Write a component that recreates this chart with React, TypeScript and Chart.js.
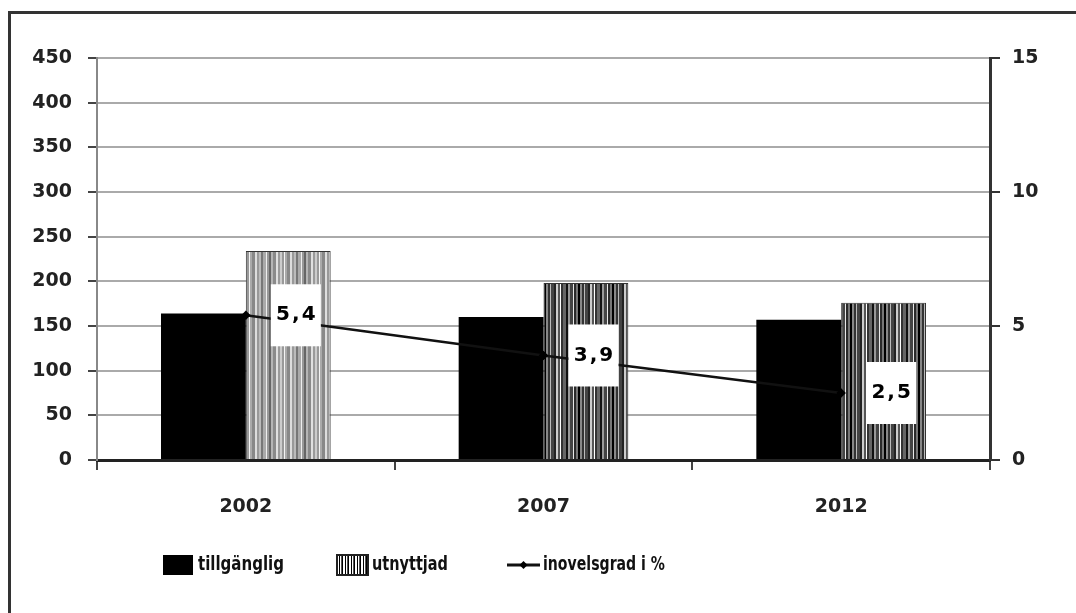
import React, { useEffect, useRef } from "react";
import { Chart, registerables } from "chart.js";

Chart.register(...registerables);

const categories = ["2002", "2007", "2012"];
const tillganglig = [164, 160, 157];
const utnyttjad = [234, 198, 176];
const inovelsgrad = [5.4, 3.9, 2.5];
const rateLabels = ["5,4", "3,9", "2,5"];
const seriesNames = ["tillgänglig", "utnyttjad", "inovelsgrad i %"];
const leftMax = 450;
const leftStep = 50;
const rightMax = 15;
const rightStep = 5;

type Stripe = [string, number];

function makePattern(stripes: Stripe[]): CanvasPattern | string {
  const total = stripes.reduce((s, [, w]) => s + w, 0);
  const c = document.createElement("canvas");
  c.width = total;
  c.height = 4;
  const g = c.getContext("2d");
  if (!g) return "#888";
  let x = 0;
  stripes.forEach(([col, w]) => {
    g.fillStyle = col;
    g.fillRect(x, 0, w, 4);
    x += w;
  });
  return g.createPattern(c, "repeat") || "#888";
}

const lightStripes: Stripe[] = [
  ["#ccc", 2], ["#999", 2], ["#f4f4f4", 1], ["#aaa", 2], ["#888", 3], ["#ddd", 2],
  ["#999", 2], ["#bbb", 2], ["#777", 2], ["#aaa", 3], ["#eee", 1], ["#999", 2],
  ["#666", 2], ["#b5b5b5", 2], ["#8a8a8a", 3], ["#e0e0e0", 2], ["#9a9a9a", 2],
];
const darkStripes: Stripe[] = [
  ["#000", 2], ["#888", 2], ["#333", 2], ["#bbb", 1], ["#444", 3], ["#222", 2],
  ["#ccc", 2], ["#555", 2], ["#fff", 1], ["#333", 2], ["#666", 3], ["#111", 2],
  ["#999", 2], ["#444", 3], ["#e8e8e8", 1], ["#2a2a2a", 2], ["#777", 2],
];
const legendStripes: Stripe[] = [["#000", 1], ["#fff", 2], ["#000", 1], ["#fff", 1], ["#555", 1]];

export default function App() {
  const ref = useRef<HTMLCanvasElement | null>(null);

  useEffect(() => {
    if (!ref.current) return;
    const light = makePattern(lightStripes);
    const dark = makePattern(darkStripes);
    const legendPattern = makePattern(legendStripes);
    const tickFont = { family: "DejaVu Sans", size: 19, weight: "bold" as const };

    const labelPlugin = {
      id: "rateLabels",
      afterDatasetsDraw(chart: any) {
        const ctx = chart.ctx;
        const meta = chart.getDatasetMeta(2);
        ctx.save();
        meta.data.forEach((pt: any, i: number) => {
          const cx = pt.x + 50;
          const cy = pt.y;
          ctx.fillStyle = "#fff";
          ctx.fillRect(cx - 25, cy - 31, 50, 62);
          ctx.fillStyle = "#000";
          ctx.font = "bold 20px 'DejaVu Sans'";
          (ctx as any).letterSpacing = "2px";
          ctx.textAlign = "center";
          ctx.textBaseline = "middle";
          ctx.fillText(rateLabels[i], cx + 1, cy);
        });
        ctx.restore();
      },
    };

    const legendPlugin = {
      id: "customLegend",
      afterDraw(chart: any) {
        const ctx = chart.ctx;
        const cy = 565;
        ctx.save();
        ctx.font = "bold 20px 'DejaVu Sans'";
        ctx.textBaseline = "middle";
        ctx.textAlign = "left";
        ctx.fillStyle = "#000";
        ctx.fillRect(163, cy - 10, 30, 20);
        ctx.fillStyle = "#111";
        ctx.fillText(chart.data.datasets[0].label, 198, cy, 86);
        ctx.fillStyle = legendPattern;
        ctx.fillRect(337, cy - 10, 31, 20);
        ctx.strokeStyle = "#222";
        ctx.lineWidth = 2;
        ctx.strokeRect(337, cy - 10, 31, 20);
        ctx.fillStyle = "#111";
        ctx.fillText(chart.data.datasets[1].label, 372, cy, 76);
        ctx.strokeStyle = "#111";
        ctx.lineWidth = 3;
        ctx.beginPath();
        ctx.moveTo(507, cy);
        ctx.lineTo(540, cy);
        ctx.stroke();
        ctx.fillStyle = "#000";
        ctx.beginPath();
        ctx.moveTo(523.5, cy - 4);
        ctx.lineTo(527.5, cy);
        ctx.lineTo(523.5, cy + 4);
        ctx.lineTo(519.5, cy);
        ctx.closePath();
        ctx.fill();
        ctx.fillStyle = "#111";
        ctx.fillText(chart.data.datasets[2].label, 543, cy, 122);
        ctx.restore();
      },
    };

    const chart = new Chart(ref.current, {
      type: "bar",
      data: {
        labels: categories,
        datasets: [
          {
            type: "bar",
            label: seriesNames[0],
            data: tillganglig,
            backgroundColor: "#000",
            borderWidth: 0,
            yAxisID: "y",
            order: 2,
            categoryPercentage: 0.57,
            barPercentage: 1,
          },
          {
            type: "bar",
            label: seriesNames[1],
            data: utnyttjad,
            backgroundColor: [light, dark, dark] as any,
            borderColor: "#333",
            borderWidth: 1,
            yAxisID: "y",
            order: 2,
            categoryPercentage: 0.57,
            barPercentage: 1,
          },
          {
            type: "line",
            label: seriesNames[2],
            data: inovelsgrad,
            borderColor: "#111",
            borderWidth: 2.5,
            pointRadius: 3,
            pointStyle: "rectRot",
            pointBackgroundColor: "#000",
            pointBorderColor: "#000",
            yAxisID: "y1",
            order: 0,
          } as any,
        ],
      },
      options: {
        responsive: false,
        animation: false,
        layout: { padding: { top: 58, bottom: 83, left: 0, right: 0 } },
        plugins: { legend: { display: false }, tooltip: { enabled: false } },
        scales: {
          x: {
            afterFit(scale: any) {
              scale.height = 70;
            },
            grid: {
              offset: true,
              drawOnChartArea: false,
              drawTicks: true,
              tickLength: 10,
              color: "#444",
              lineWidth: 2,
            },
            border: { display: true, color: "#222", width: 3 },
            ticks: { font: tickFont, color: "#222", padding: 26 },
          },
          y: {
            position: "left",
            min: 0,
            max: leftMax,
            afterFit(scale: any) {
              scale.width = 97;
            },
            grid: {
              color: "#aaa",
              lineWidth: 2,
              tickLength: 9,
              tickColor: "#444",
            },
            border: { display: true, color: "#888", width: 2 },
            ticks: { stepSize: leftStep, font: tickFont, color: "#222", padding: 16 },
          },
          y1: {
            position: "right",
            min: 0,
            max: rightMax,
            afterFit(scale: any) {
              scale.width = 86;
            },
            grid: {
              drawOnChartArea: false,
              tickLength: 10,
              tickColor: "#333",
              lineWidth: 2,
            },
            border: { display: true, color: "#333", width: 3 },
            ticks: { stepSize: rightStep, font: tickFont, color: "#222", padding: 12 },
          },
        },
      },
      plugins: [labelPlugin, legendPlugin],
    } as any);

    return () => chart.destroy();
  }, []);

  return (
    <div
      style={{
        position: "fixed",
        left: 0,
        top: 0,
        width: 1076,
        height: 613,
        background: "#fff",
        overflow: "hidden",
      }}
    >
      <div
        style={{
          position: "absolute",
          left: 8,
          top: 11,
          width: 1200,
          height: 800,
          borderTop: "3px solid #333",
          borderLeft: "3px solid #333",
        }}
      />
      <canvas
        ref={ref}
        width={1076}
        height={613}
        style={{ position: "absolute", left: 0, top: 0, width: 1076, height: 613 }}
      />
    </div>
  );
}
